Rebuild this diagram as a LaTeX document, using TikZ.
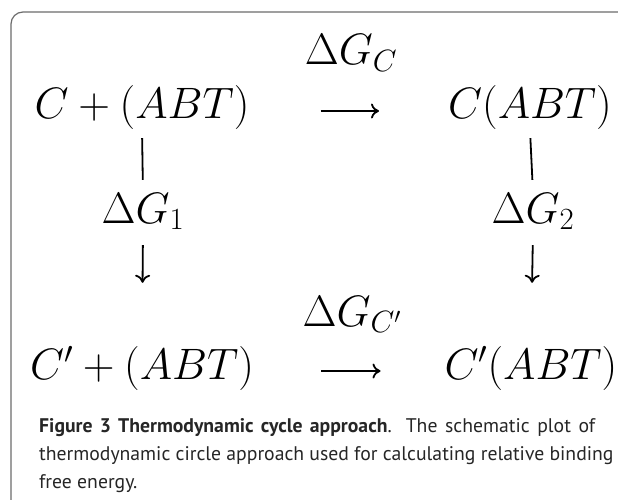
\RequirePackage{fix-cm}
\documentclass[tikz,border=0pt]{standalone}
\usepackage{fontspec}
\newfontfamily\capfont{PT Sans}
\usetikzlibrary{arrows.meta}
\begin{document}
\begin{tikzpicture}[x=1pt,y=-1pt,
  mathtxt/.style={inner sep=0pt, anchor=base, font=\fontsize{44}{52}\selectfont},
  rowtxt/.style={mathtxt, text height=33pt, text depth=11pt},
  gtxt/.style={mathtxt, text height=30pt, text depth=7pt},
  link/.style={line width=1.8pt},
  arr/.style={line width=1.8pt, -{To[length=8pt,width=15pt]}},
  captxt/.style={inner sep=0pt, anchor=base west, font=\capfont\fontsize{19.7}{24}\selectfont, text=black!85}
]
\useasboundingbox (0,0) rectangle (618,500);
\fill[white] (0,0) rectangle (618,500);
\draw[gray!85!black, line width=1.2pt, rounded corners=12pt] (11,502) |- (625,12);

\node[mathtxt] (gc)  at (351,65)  {$\Delta G_C$};
\node[rowtxt] (l1)  at (142,119) {$C+(ABT)$};
\node[rowtxt] (r1)  at (530,119) {$C(ABT)$};
\node[gtxt] (g1)  at (143,223) {$\Delta G_1$};
\node[gtxt] (g2)  at (533,223) {$\Delta G_2$};
\node[mathtxt] (gcp) at (352,326) {$\Delta G_{C'}$};
\node[rowtxt] (l3)  at (142,379) {$C'+(ABT)$};
\node[rowtxt] (r3)  at (531,379) {$C'(ABT)$};

\draw[arr, shorten <=71pt, shorten >=69pt] ([yshift=-3pt]l1.east) -- ([yshift=-3pt]r1.west);
\draw[arr, shorten <=67pt, shorten >=64pt] ([yshift=-3pt]l3.east) -- ([yshift=-3pt]r3.west);
\draw[link, shorten <=8pt, shorten >=13pt] (l1.south) -- (g1.north);
\draw[link, shorten <=8pt, shorten >=13pt] (r1.south) -- (g2.north);
\draw[arr, shorten <=15pt, shorten >=63pt] (g1.south) -- (l3.north);
\draw[arr, shorten <=15pt, shorten >=63pt] (g2.south) -- (r3.north);

\node[captxt] (c1) at (39,432) {\makebox[556pt][s]{\textbf{Figure 3 Thermodynamic cycle approach}. The schematic plot of}};
\node[captxt] (c2) at (39,460) {thermodynamic circle approach used for calculating relative binding};
\node[captxt] (c3) at (39,488) {free energy.};
\end{tikzpicture}
\end{document}
